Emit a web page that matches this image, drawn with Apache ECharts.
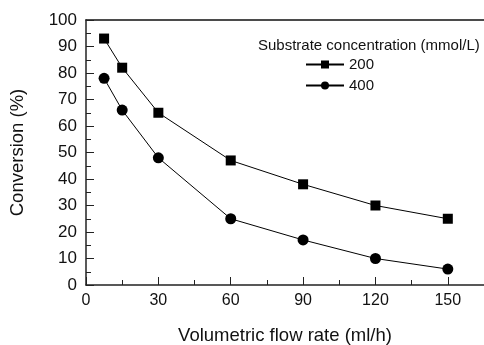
<!DOCTYPE html>
<html>
    <head>
        <meta charset="utf-8">
        <script src="https://cdn.jsdelivr.net/npm/echarts@6/dist/echarts.min.js"></script>
    </head>
    <body>
        <style>
            html, body, #main {
                width: 100%;
                height: 100%;
                margin: 0;
            }
        </style>
        <div id="main"></div>
        <script>
            // flow rate (ml/h)
            var flowRate = [7.5, 15, 30, 60, 90, 120, 150];
            // conversion (%) for each substrate concentration
            var conv200 = [93, 82, 65, 47, 38, 30, 25];
            var conv400 = [78, 66, 48, 25, 17, 10, 6];
            var seriesNames = ['200', '400'];

            var chart = echarts.init(document.getElementById('main'));

            var font = 'Liberation Sans, Arial, sans-serif';
            var axisStyle = {
                axisLine: {lineStyle: {color: '#222', width: 1.5}},
                axisTick: {inside: true, length: 8, lineStyle: {color: '#222', width: 1}},
                minorTick: {show: true, splitNumber: 2, length: 5, lineStyle: {color: '#222', width: 1}},
                splitLine: {show: false},
                axisLabel: {color: '#111', fontSize: 17, fontFamily: font},
                nameTextStyle: {color: '#111', fontSize: 18.5, fontFamily: font}
            };

            function pairs(ys) {
                return flowRate.map(function (x, i) { return [x, ys[i]]; });
            }

            chart.setOption({
                animation: false,
                title: {
                    text: 'Substrate concentration (mmol/L)',
                    left: 253,
                    top: 33,
                    textStyle: {fontSize: 15, fontWeight: 'normal', color: '#111', fontFamily: font}
                },
                legend: {
                    orient: 'vertical',
                    left: 300,
                    top: 52,
                    itemWidth: 38,
                    itemHeight: 10,
                    itemGap: 6,
                    data: seriesNames,
                    textStyle: {fontSize: 15, color: '#111', fontFamily: font}
                },
                grid: {left: 86, top: 20, right: 0, bottom: 60, outerBoundsMode: 'none'},
                xAxis: [
                    Object.assign({}, axisStyle, {
                        type: 'value',
                        min: 0,
                        max: 165,
                        interval: 30,
                        name: 'Volumetric flow rate (ml/h)',
                        nameLocation: 'middle',
                        nameGap: 41,
                        axisLabel: Object.assign({}, axisStyle.axisLabel, {
                            fontSize: 16,
                            margin: 8,
                            showMaxLabel: false,
                            formatter: function (v) { return v % 30 === 0 ? v : ''; }
                        })
                    }),
                    {
                        type: 'value',
                        position: 'top',
                        min: 0,
                        max: 165,
                        axisLine: {show: true, lineStyle: {color: '#111', width: 1.5}},
                        axisTick: {show: false},
                        axisLabel: {show: false},
                        splitLine: {show: false}
                    }
                ],
                yAxis: Object.assign({}, axisStyle, {
                    type: 'value',
                    min: 0,
                    max: 100,
                    interval: 10,
                    name: 'Conversion (%)',
                    nameLocation: 'middle',
                    nameGap: 59,
                    axisLabel: Object.assign({}, axisStyle.axisLabel, {margin: 9})
                }),
                series: [
                    {
                        name: seriesNames[0],
                        type: 'line',
                        data: pairs(conv200),
                        symbol: 'rect',
                        symbolSize: 10,
                        itemStyle: {color: '#000'},
                        lineStyle: {color: '#000', width: 1}
                    },
                    {
                        name: seriesNames[1],
                        type: 'line',
                        data: pairs(conv400),
                        symbol: 'circle',
                        symbolSize: 11,
                        itemStyle: {color: '#000'},
                        lineStyle: {color: '#000', width: 1}
                    }
                ]
            });
        </script>
    </body>
</html>
